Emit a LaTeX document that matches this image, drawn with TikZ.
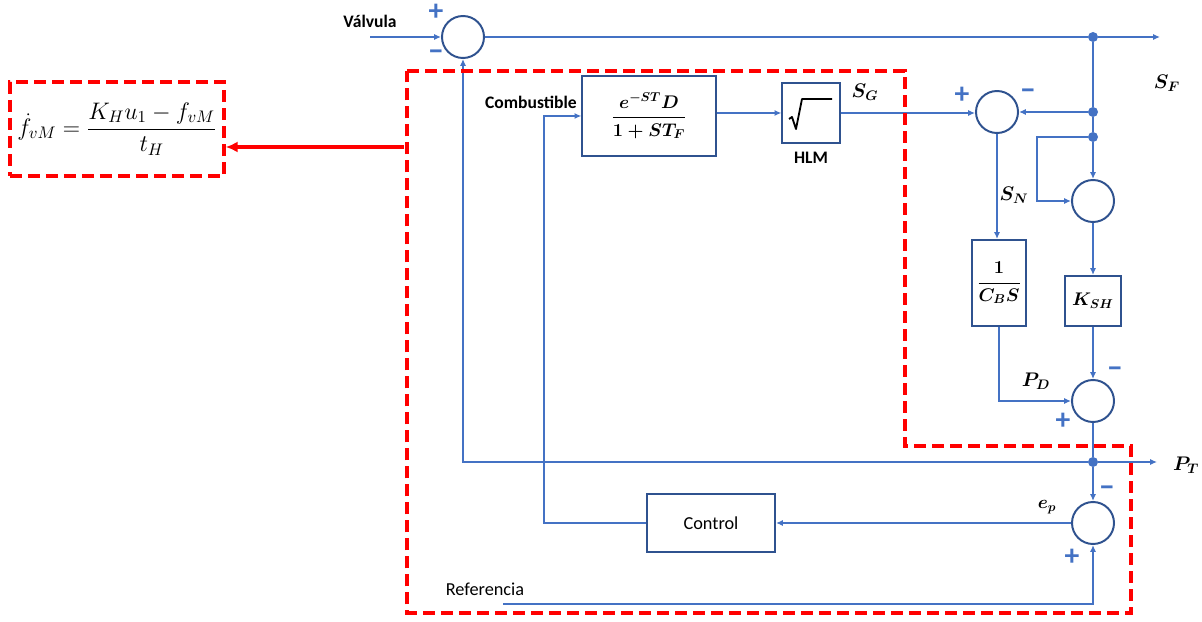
\RequirePackage{fix-cm}
\documentclass[tikz,border=0pt]{standalone}
\usepackage{amsmath}
\usepackage{fontspec}
\newfontfamily\calibri{Carlito}
\usetikzlibrary{arrows.meta}
\definecolor{wireblue}{HTML}{4472C4}
\definecolor{boxblue}{HTML}{2F528F}

\begin{document}
\begin{tikzpicture}[
  x=0.025cm,y=-0.025cm,
  >={Latex[length=1.7mm,width=1.5mm]},
  wire/.style={draw=wireblue,line width=1pt},
  sum node/.style={circle,draw=boxblue,line width=1.4pt,minimum size=1.05cm,inner sep=0pt},
  block node/.style={rectangle,draw=boxblue,line width=1.4pt,inner sep=1pt,fill=white,font=\fontsize{13}{15}\selectfont\boldmath},
  junction node/.style={circle,fill=wireblue,minimum size=2.5mm,inner sep=0pt},
  plus sign/.style={text=wireblue,inner sep=0pt,font=\calibri\bfseries\fontsize{21}{21}\selectfont},
  minus sign/.style={text=wireblue,inner sep=0pt,font=\calibri\bfseries\fontsize{23}{23}\selectfont},
  word label/.style={inner sep=1pt,font=\calibri\fontsize{13}{15}\selectfont},
  math label/.style={inner sep=1pt,font=\fontsize{14}{16}\selectfont\boldmath},
  region/.style={draw=red,line width=2.4pt,dash pattern=on 3mm off 1.5mm},
  red arrow/.style={draw=red,line width=2.6pt,-{Latex[length=3mm,width=2.8mm]}},
  root sign/.style={draw=black,line width=1.3pt,line join=round},
]
\useasboundingbox (0,0) rectangle (1202,622);

% summing points
\node[sum node] (s1) at (463,37) {};
\node[sum node] (s2) at (997,112) {};
\node[sum node] (s3) at (1093,201) {};
\node[sum node] (s4) at (1093,401) {};
\node[sum node] (s5) at (1093,523) {};

% blocks
\node[block node,minimum width=3.33cm,minimum height=1.98cm] (fuel) at (649,116) {$\dfrac{e^{-ST}D}{1+ST_F}$};
\node[block node,minimum width=1.43cm,minimum height=1.48cm] (hlm) at (811,113) {};
\node[block node,minimum width=1.35cm,minimum height=2.15cm] (cbs) at (999,283) {$\dfrac{1}{C_BS}$};
\node[block node,minimum width=1.38cm,minimum height=1.25cm] (ksh) at (1093,301) {$K_{SH}$};
\node[block node,minimum width=3.2cm,minimum height=1.45cm,font=\calibri\fontsize{13}{15}\selectfont] (ctrl) at (711,523) {Control};
\draw[root sign] (hlm.center) ++(-22,6) -- ++(3,-2) -- ++(4,12) -- ++(6,-30) -- ++(30,0);

% junctions
\node[junction node] (j1) at (1093,37) {};
\node[junction node] (j2) at (1093,112) {};
\node[junction node] (j3) at (1093,137) {};
\node[junction node] (j4) at (1093,462) {};

\coordinate (valve in) at (370,37);
\coordinate (sf out) at (1160,37);
\coordinate (pt out) at (1157,462);
\coordinate (ref in) at (503,604);
\coordinate (bypass) at (1037,137);
\coordinate (feed corner) at (544,116);

% signals
\draw[wire,->] (valve in) -- (s1.west);
\draw[wire] (s1.east) -- (j1);
\draw[wire,->] (j1) -- (sf out);
\draw[wire] (j1) -- (j2) -- (j3);
\draw[wire,->] (j2) -- (s2.east);
\draw[wire,->] (j3) -- (s3.north);
\draw[wire,->] (j3) -- (bypass) |- (s3.west);
\draw[wire,->] (fuel.east |- hlm.west) -- (hlm.west);
\draw[wire,->] (hlm.east) -- (hlm.east -| s2.west);
\draw[wire,->] (s2.south) -- (s2.south |- cbs.north);
\draw[wire,->] (s3.south) -- (ksh.north);
\draw[wire,->] (ksh.south) -- (s4.north);
\draw[wire,->] (cbs.south) |- (s4.west);
\draw[wire] (s4.south) -- (j4);
\draw[wire,->] (j4) -- (s5.north);
\draw[wire,->] (j4) -- (pt out);
\draw[wire,->] (j4) -| (s1.south);
\draw[wire,->] (s5.west) -- (ctrl.east);
\draw[wire,->] (ctrl.west) -| (feed corner) -- (fuel.west);
\draw[wire,->] (ref in) -| (s5.south);

% signs
\node[plus sign] (s1 plus) at (436,12) {+};
\node[minus sign] (s1 minus) at (436,55) {–};
\node[plus sign] (s2 plus) at (962,95) {+};
\node[minus sign] (s2 minus) at (1028,94) {–};
\node[minus sign] (s4 minus) at (1115,372) {–};
\node[plus sign] (s4 plus) at (1063,421) {+};
\node[minus sign] (s5 minus) at (1107,491) {–};
\node[plus sign] (s5 plus) at (1072,557) {+};

% labels
\node[word label,font=\calibri\bfseries\fontsize{12.5}{14}\selectfont] (valve label) at (370,21) {Válvula};
\node[word label,font=\calibri\bfseries\fontsize{12.5}{14}\selectfont] (fuel label) at (531,102) {Combustible};
\node[word label,font=\calibri\bfseries\fontsize{12.5}{14}\selectfont] (hlm label) at (811,158) {HLM};
\node[word label] (ref label) at (485,589) {Referencia};
\node[math label] (sg label) at (865,92) {$S_G$};
\node[math label] (sf label) at (1167,83) {$S_F$};
\node[math label] (sn label) at (1014,195) {$S_N$};
\node[math label] (pd label) at (1036,381) {$P_D$};
\node[math label] (pt label) at (1186,465) {$P_T$};
\node[math label,font=\fontsize{13}{15}\selectfont\boldmath] (ep label) at (1047,507) {$e_p$};

% model region and its equation
\draw[region] (407,71) -- (905,71) -- (905,446) -- (1131,446) -- (1131,613) -- (407,613) -- cycle;
\node[region,minimum width=5.35cm,minimum height=2.35cm,inner sep=0pt,font=\fontsize{17}{20}\selectfont] (eq) at (117,129) {$\dot{f}_{vM}=\dfrac{K_Hu_1-f_{vM}}{t_H}$};
\coordinate (region tap) at (404,147);
\draw[red arrow] (region tap) -- (region tap -| eq.east);
\end{tikzpicture}
\end{document}
